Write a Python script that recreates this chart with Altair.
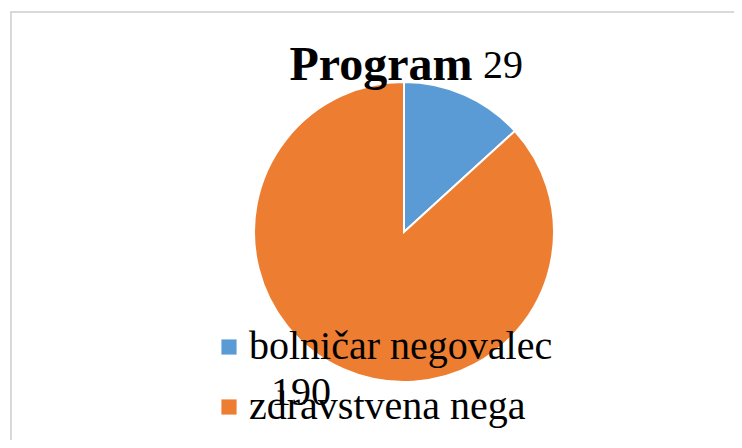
import altair as alt
import pandas as pd

title_text = "Program"
categories = ["bolničar negovalec", "zdravstvena nega"]
values = [29, 190]
colors = ["#5B9BD5", "#ED7D31"]

df = pd.DataFrame({"category": categories, "value": values})

CX, CY = 396, 224
SERIF = "'Liberation Serif', 'Times New Roman', Times, serif"

base = alt.Chart(df).encode(
    theta=alt.Theta("value:Q", stack=True),
    order=alt.Order("category:N"),
)

pie = base.mark_arc(outerRadius=150, stroke="white", strokeWidth=2).encode(
    color=alt.Color(
        "category:N",
        scale=alt.Scale(domain=categories, range=colors),
        legend=alt.Legend(
            title=None,
            orient="none",
            legendX=201,
            legendY=319,
            symbolType="square",
            symbolSize=230,
            symbolStrokeWidth=0,
            labelFont=SERIF,
            labelFontSize=40,
            labelColor="black",
            labelLimit=1000,
            labelOffset=0,
            rowPadding=20,
            padding=0,
        ),
    ),
    x=alt.value(CX),
    y=alt.value(CY),
)

lab1 = base.mark_text(
    radius=193, dx=21, dy=11, font=SERIF, fontSize=40, color="black"
).encode(
    text=alt.condition(alt.datum.category == categories[0], "value:Q", alt.value("")),
    x=alt.value(CX),
    y=alt.value(CY),
)

lab2 = base.mark_text(
    radius=193, dx=-25, dy=-16, font=SERIF, fontSize=40, color="black"
).encode(
    text=alt.condition(alt.datum.category == categories[1], "value:Q", alt.value("")),
    x=alt.value(CX),
    y=alt.value(CY),
)

title = alt.Chart(pd.DataFrame({"t": [title_text]})).mark_text(
    font=SERIF, fontSize=48, fontWeight="bold", color="black",
    baseline="alphabetic", align="center"
).encode(text="t:N", x=alt.value(373), y=alt.value(72))

border = alt.Chart(pd.DataFrame({"t": [0]})).mark_rect(
    fill=None, stroke="#d9d9d9", strokeWidth=2
).encode(x=alt.value(3), y=alt.value(4), x2=alt.value(800), y2=alt.value(500))

chart = alt.layer(border, pie, lab1, lab2, title).properties(
    width=726, height=432, padding=0,
    autosize=alt.AutoSizeParams(type="fit", contains="padding"),
).configure_view(stroke=None)

chart.save("out.html", embed_options={"renderer": "svg", "actions": False})
